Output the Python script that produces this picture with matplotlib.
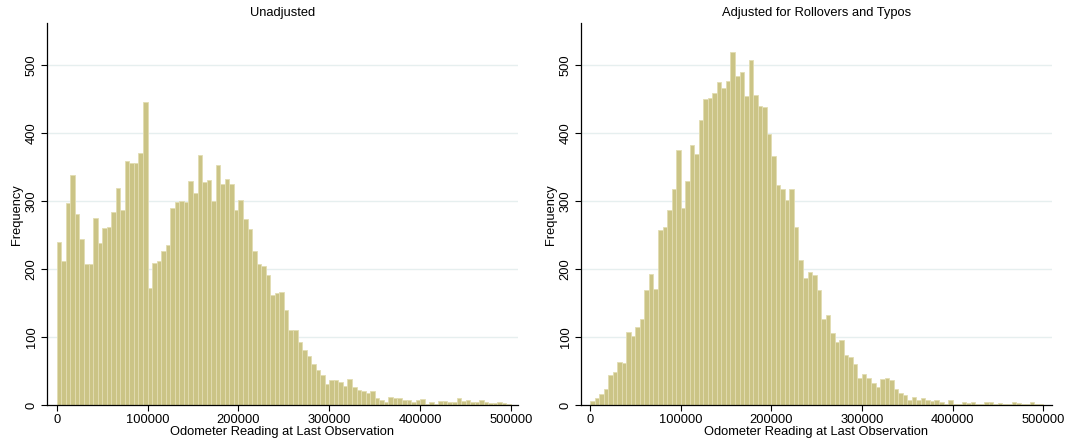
import numpy as np
import matplotlib
matplotlib.use("Agg")
import matplotlib.pyplot as plt

plt.rcParams['font.family'] = ['Liberation Sans', 'DejaVu Sans']

# histogram bins: width 5000 miles, 0 to 500000
bin_width = 5000
bin_left = np.arange(0, 500000, bin_width)

# counts, one per bin
unadjusted = [
    240, 211, 297, 338, 280, 244, 207, 207, 275, 238,
    260, 262, 284, 319, 287, 358, 355, 356, 371, 446,
    172, 208, 211, 226, 235, 289, 298, 300, 299, 329,
    311, 368, 327, 331, 300, 353, 325, 332, 325, 286,
    302, 274, 258, 226, 207, 204, 191, 161, 165, 166,
    139, 110, 110, 93, 81, 72, 60, 52, 44, 31,
    37, 36, 34, 28, 38, 27, 22, 21, 18, 20,
    11, 8, 4, 12, 10, 10, 7, 7, 4, 7,
    9, 1, 5, 2, 6, 6, 5, 4, 10, 6,
    7, 5, 5, 7, 5, 3, 3, 4, 3, 2,
]

adjusted = [
    6, 10, 16, 24, 44, 48, 63, 61, 107, 101,
    114, 127, 169, 192, 170, 257, 262, 287, 318, 375,
    290, 329, 382, 369, 419, 450, 451, 459, 475, 466,
    476, 519, 483, 490, 454, 507, 455, 440, 438, 398,
    366, 324, 318, 301, 318, 262, 213, 187, 196, 191,
    169, 127, 132, 106, 93, 96, 74, 71, 60, 39,
    46, 40, 33, 27, 38, 39, 37, 24, 18, 15,
    8, 12, 7, 10, 7, 6, 7, 4, 2, 7,
    2, 2, 4, 3, 4, 2, 1, 4, 5, 2,
    3, 2, 2, 4, 3, 1, 2, 4, 1, 1,
]

titles = ["Unadjusted", "Adjusted for Rollovers and Typos"]
xticks = [0, 100000, 200000, 300000, 400000, 500000]
yticks = [0, 100, 200, 300, 400, 500]
fs = 9.3

fig = plt.figure(figsize=(10.69, 4.45), dpi=100)
ax1 = fig.add_axes([0.0437, 0.0899, 0.4409, 0.8578])
ax2 = fig.add_axes([0.5432, 0.0899, 0.4406, 0.8578])

for ax, counts, title, xlim in [(ax1, unadjusted, titles[0], (-11000, 507700)),
                                (ax2, adjusted, titles[1], (-10260, 509300))]:
    ax.bar(bin_left, counts, width=bin_width, align='edge',
           color='#cbc486', edgecolor='#e2ddb2', linewidth=0.6, zorder=2)
    ax.set_xlim(*xlim)
    ax.set_ylim(0, 561)
    for y in yticks[1:]:
        ax.axhline(y, color='#e6efef', linewidth=1.0, zorder=1)
    ax.set_xticks(xticks)
    ax.set_xticklabels([str(t) for t in xticks])
    ax.set_yticks(yticks)
    ax.set_yticklabels([str(t) for t in yticks], rotation=90, va='center')
    ax.tick_params(axis='both', labelsize=fs, length=4.5, width=0.8, pad=2)
    for side in ['top', 'right']:
        ax.spines[side].set_visible(False)
    ax.spines['left'].set_linewidth(0.9)
    ax.spines['bottom'].set_linewidth(0.9)
    ax.set_title(title, fontsize=fs, pad=5)
    ax.set_xlabel("Odometer Reading at Last Observation", fontsize=fs, labelpad=0)
    ax.set_ylabel("Frequency", fontsize=fs, labelpad=2)

fig.savefig("out.png", dpi=100)
